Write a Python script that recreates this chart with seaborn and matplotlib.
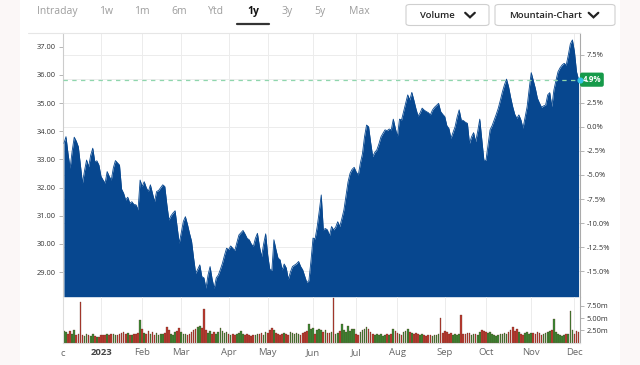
import numpy as np
import pandas as pd
import matplotlib.pyplot as plt
import seaborn as sns
from matplotlib.lines import Line2D
from matplotlib.patches import FancyBboxPatch, Rectangle
import matplotlib.transforms as mtransforms

# trading days shown (1y view)
start_day = '2022-12-06'
end_day = '2023-12-05'
market_holidays = ['2022-12-26', '2023-01-02', '2023-01-16', '2023-02-20', '2023-04-07',
                   '2023-05-29', '2023-06-19', '2023-07-04', '2023-09-04', '2023-11-23']

# daily close
close = [
    33.57, 33.81, 33.20, 32.69, 33.30, 33.79, 33.65, 33.45, 32.80, 32.16,
    32.60, 32.98, 32.74, 33.15, 33.40, 32.92, 32.95, 32.80, 32.40, 32.27,
    32.16, 32.57, 32.40, 32.27, 32.70, 32.96, 32.88, 32.80, 31.95, 31.80,
    31.56, 31.66, 31.45, 31.50, 31.40, 31.39, 31.21, 32.27, 32.04, 32.21,
    32.00, 31.86, 32.10, 31.80, 31.50, 31.86, 31.90, 32.00, 32.10, 32.04,
    31.40, 30.85, 31.00, 31.10, 31.18, 30.60, 30.03, 30.40, 30.80, 30.97,
    30.70, 30.38, 30.10, 29.50, 28.96, 29.10, 29.26, 28.84, 28.80, 28.43,
    28.90, 29.20, 28.75, 28.43, 28.80, 28.90, 29.10, 29.32, 29.60, 29.85,
    29.80, 29.93, 29.85, 29.77, 30.05, 30.32, 30.40, 30.48, 30.35, 30.20,
    30.15, 30.00, 29.91, 30.20, 30.38, 29.90, 29.55, 30.00, 30.36, 29.60,
    29.10, 29.06, 30.15, 29.80, 29.50, 29.44, 29.08, 29.29, 29.15, 28.75,
    29.00, 29.20, 29.25, 29.30, 29.38, 29.20, 29.08, 28.85, 28.63, 28.70,
    29.40, 30.21, 30.18, 30.60, 31.15, 31.74, 30.50, 30.55, 30.50, 30.29,
    30.62, 30.50, 30.60, 30.79, 30.62, 30.90, 31.21, 31.70, 32.20, 32.51,
    32.65, 32.72, 32.55, 32.45, 32.87, 33.20, 33.80, 34.22, 34.16, 33.60,
    33.10, 33.25, 33.34, 33.55, 33.80, 33.93, 34.05, 34.02, 34.08, 34.05,
    34.43, 34.10, 33.81, 34.43, 34.40, 34.70, 35.00, 35.29, 35.11, 35.38,
    35.10, 34.80, 34.54, 34.65, 34.82, 34.75, 34.70, 34.66, 34.58, 34.75,
    34.85, 34.92, 34.99, 34.70, 34.60, 34.52, 34.20, 34.10, 33.75, 33.95,
    34.16, 34.50, 34.76, 34.40, 34.38, 34.32, 34.28, 33.57, 33.80, 33.95,
    33.63, 34.00, 34.43, 33.70, 32.98, 32.96, 33.50, 34.05, 34.20, 34.40,
    34.60, 34.82, 35.10, 35.40, 35.65, 35.85, 35.58, 35.20, 34.87, 34.60,
    34.46, 34.58, 34.40, 34.11, 34.50, 34.87, 35.50, 36.08, 35.80, 35.52,
    35.17, 35.00, 34.85, 34.90, 34.93, 35.29, 35.37, 34.87, 35.46, 35.80,
    36.11, 36.25, 36.35, 36.41, 36.35, 36.70, 37.10, 37.24, 36.82, 36.11,
    35.83,
]

# daily volume in millions
volume_m = [
    2.4, 2.1, 1.7, 2.3, 1.8, 2.5, 1.6, 1.8, 8.3, 1.5,
    1.4, 1.7, 1.6, 1.3, 1.7, 1.4, 1.2, 1.1, 1.5, 1.6,
    1.5, 1.7, 1.6, 1.8, 1.7, 1.6, 1.5, 1.8, 2.0, 2.2,
    1.7, 1.9, 1.6, 1.5, 1.7, 1.8, 2.0, 4.6, 2.8, 2.0,
    1.7, 2.4, 1.8, 2.1, 1.6, 1.9, 1.5, 1.7, 1.8, 2.0,
    3.1, 2.6, 1.8, 1.6, 2.1, 2.3, 3.0, 2.2, 1.7, 1.8,
    1.6, 1.8, 2.1, 2.5, 2.8, 3.1, 3.3, 2.9, 6.85, 2.6,
    1.9, 2.3, 1.8, 2.1, 1.7, 2.2, 3.0, 2.3, 1.9, 2.2,
    1.8, 1.6, 1.7, 1.5, 1.8, 2.0, 2.4, 1.7, 1.6, 1.8,
    1.5, 1.4, 1.6, 1.5, 1.8, 1.7, 2.0, 1.6, 2.1, 1.9,
    2.5, 3.0, 2.6, 2.0, 1.8, 1.5, 1.7, 2.0, 1.8, 1.6,
    2.1, 1.9, 1.7, 2.0, 1.8, 1.6, 1.9, 2.1, 2.4, 3.9,
    2.8, 3.0, 1.7, 2.6, 2.8, 2.6, 2.2, 2.5, 2.0, 1.9,
    2.2, 9.2, 1.8, 2.0, 2.4, 3.9, 2.6, 2.2, 3.4, 2.4,
    2.8, 2.7, 1.8, 1.5, 2.1, 2.6, 2.8, 3.2, 2.8, 2.1,
    1.7, 1.6, 1.8, 1.5, 1.7, 1.4, 1.6, 1.8, 1.5, 1.7,
    2.7, 2.3, 2.0, 1.8, 1.6, 2.1, 2.4, 2.7, 2.2, 1.9,
    1.7, 2.0, 1.8, 1.5, 1.7, 1.6, 1.4, 1.6, 1.5, 1.4,
    1.5, 1.6, 1.8, 5.0, 2.0, 2.4, 2.1, 1.7, 1.9, 1.6,
    1.8, 1.5, 1.7, 5.7, 1.8, 1.7, 1.9, 2.0, 1.6, 1.8,
    1.7, 1.5, 2.1, 2.5, 2.4, 2.2, 2.0, 2.1, 1.8, 1.6,
    1.4, 1.5, 1.7, 1.8, 2.0, 1.8, 2.2, 2.6, 3.1, 2.4,
    2.7, 2.1, 1.8, 1.6, 1.9, 2.1, 1.8, 2.0, 1.9, 1.7,
    2.1, 1.9, 1.6, 1.8, 2.0, 2.2, 2.4, 2.5, 4.8, 2.1,
    1.8, 1.5, 1.3, 1.6, 1.8, 1.7, 6.5, 2.6, 1.8, 2.4,
    2.1,
]

periods = ['Intraday', '1w', '1m', '6m', 'Ytd', '1y', '3y', '5y', 'Max']
active_period = '1y'
price_ticks = [29, 30, 31, 32, 33, 34, 35, 36, 37]
pct_ticks = [-15.0, -12.5, -10.0, -7.5, -5.0, -2.5, 0.0, 2.5, 5.0, 7.5]
vol_ticks = [2.5, 5.0, 7.5]
last_change_pct = 4.9

# --- build the frame
days = pd.bdate_range(start_day, end_day)
days = days[~days.isin(pd.to_datetime(market_holidays))]
assert len(days) == len(close) == len(volume_m)
df = pd.DataFrame({'date': days, 'close': close, 'volume': volume_m})
df['i'] = np.arange(len(df))
df['dir'] = np.where(df['close'].diff().fillna(0) >= 0, 'up', 'down')
base = close[-1] / (1 + last_change_pct / 100)

month_first = df.groupby(df['date'].dt.to_period('M'))['i'].min()
month_first = month_first[month_first.index >= pd.Period('2023-01', 'M')]
month_pos = month_first.values
month_lab = ['2023' if p.month == 1 else p.strftime('%b') for p in month_first.index]

sns.set_theme(style='white')
plt.rcParams['font.family'] = ['Open Sans', 'DejaVu Sans']

W, H = 640, 365
fig = plt.figure(figsize=(6.4, 3.65), dpi=100)
fig.patch.set_facecolor('#fbf7f7')
fig.add_artist(Rectangle((20 / W, 0), 600 / W, 1, transform=fig.transFigure,
                         facecolor='white', edgecolor='none', zorder=0))


def fx(x):
    return x / W


def fy(y):
    return 1 - y / H


# panels
x0, x1 = 63, 579.5
ytop, ymid, ybot = 33.3, 296.7, 342.7
ax = fig.add_axes([fx(x0), fy(ymid), fx(x1 - x0), (ymid - ytop) / H])
axv = fig.add_axes([fx(x0), fy(ybot), fx(x1 - x0), (ybot - ymid) / H])
for a in (ax, axv):
    a.set_facecolor('none')

lo, hi = 28.13, 37.475
xlim = (-0.45, len(df) - 0.55)
blue = '#07478f'
grid_c = '#ececec'

# price mountain
for p in pct_ticks:
    ax.axhline(base * (1 + p / 100), color=grid_c, lw=0.7, zorder=0)
for m in month_pos:
    ax.axvline(m, color=grid_c, lw=0.7, zorder=0)
    axv.axvline(m, color=grid_c, lw=0.7, zorder=0)
ax.fill_between(df['i'], df['close'], lo, color=blue, lw=0, zorder=2)
sns.lineplot(data=df, x='i', y='close', ax=ax, color=blue, lw=0.6, zorder=3)
ax.axhline(close[-1], color='#8fd6ad', lw=0.9, ls=(0, (3.5, 3.5)), zorder=4)
ax.set_xlim(*xlim)
ax.set_ylim(lo, hi)
ax.set_xticks([])
ax.set_xlabel('')
ax.set_ylabel('')
ax.set_yticks(price_ticks)
ax.set_yticklabels([f'{v:.2f}' for v in price_ticks])
ax.tick_params(axis='y', left=True, length=3, width=0.6, color='#aaaaaa',
               labelsize=5.4, labelcolor='#333333', pad=2)
for s in ['top', 'bottom', 'right']:
    ax.spines[s].set_visible(False)
ax.spines['left'].set_color('#cccccc')
ax.spines['left'].set_linewidth(0.8)

ax2 = ax.twinx()
ax2.set_ylim((lo / base - 1) * 100, (hi / base - 1) * 100)
ax2.set_yticks(pct_ticks)
# the 5.0% label sits under the last-value badge, so it is left blank
ax2.set_yticklabels(['' if abs(v - last_change_pct) < 1 else f'{v:.1f}%' for v in pct_ticks])
ax2.tick_params(axis='y', right=True, length=3, width=0.6, color='#aaaaaa',
                labelsize=5.4, labelcolor='#333333', pad=2)
ax2.grid(False)
for s in ['top', 'bottom', 'left']:
    ax2.spines[s].set_visible(False)
ax2.spines['right'].set_color('#aaaaaa')
ax2.spines['right'].set_linewidth(0.8)

# last value badge and marker
trans = mtransforms.blended_transform_factory(ax.transAxes, ax.transData)
ax2.text(1.006, close[-1], f'{last_change_pct:.1f}%', transform=trans, ha='left', va='center',
         fontsize=5.8, fontweight='bold', color='white', zorder=5,
         bbox=dict(boxstyle='round,pad=0.32,rounding_size=0.25', fc='#169a4a', ec='none'))
ax2.plot([1.0], [close[-1]], marker='o', ms=3.4, color='#35c6e6', transform=trans,
         clip_on=False, zorder=6)

# volume bars
sns.barplot(data=df, x='i', y='volume', hue='dir', palette={'up': '#2c9a27', 'down': '#d5261b'},
            native_scale=True, dodge=False, width=0.8, errorbar=None, legend=False,
            edgecolor='#5a2a1a', linewidth=0.2, ax=axv)
axv.set_xlim(*xlim)
axv.set_ylim(0, 9.37)
axv.set_xlabel('')
axv.set_ylabel('')
axv.yaxis.tick_right()
axv.set_yticks(vol_ticks)
axv.set_yticklabels([f'{v:.2f}m' for v in vol_ticks])
axv.tick_params(axis='y', right=True, left=False, length=3, width=0.6, color='#aaaaaa',
                labelsize=5.4, labelcolor='#333333', pad=2)
axv.set_xticks(month_pos)
axv.set_xticklabels(month_lab)
axv.tick_params(axis='x', bottom=False, length=0, labelsize=6.8, labelcolor='#666666', pad=4)
for t in axv.get_xticklabels():
    if t.get_text() == '2023':
        t.set_fontweight('bold')
        t.set_color('#444444')
axv.spines['top'].set_visible(False)
for s in ['left', 'right', 'bottom']:
    axv.spines[s].set_color('#dddddd')
    axv.spines[s].set_linewidth(0.8)
axv.spines['right'].set_color('#aaaaaa')
fig.text(fx(62.5), fy(353), 'c', ha='center', va='center', fontsize=6.8, color='#666666')

# top border of chart
fig.add_artist(Line2D([fx(28), fx(580)], [fy(33.3), fy(33.3)], color='#e6e6e6', lw=0.8))

# period selector
period_x = [57.8, 106, 142, 179, 216, 253, 286.7, 319.7, 359]
for name, px in zip(periods, period_x):
    active = name == active_period
    fig.text(fx(px), fy(11.5), name, ha='center', va='center', fontsize=7.5,
             color='#111111' if active else '#9d9d9d', fontweight='bold' if active else 'normal')
fig.add_artist(Line2D([fx(237), fx(269)], [fy(24.3), fy(24.3)], color='#333333', lw=1.6))

# dropdown buttons
buttons = [('Volume', 406, 489, 437, 470), ('Mountain-Chart', 495, 615, 546, 593.5)]
for label, bx0, bx1, tx, cx in buttons:
    fig.add_artist(FancyBboxPatch((fx(bx0), fy(25.5)), fx(bx1 - bx0), (25.5 - 4.5) / H,
                                  boxstyle='round,pad=0,rounding_size=0.006',
                                  transform=fig.transFigure, facecolor='white',
                                  edgecolor='#cfcfcf', lw=0.8))
    fig.text(fx(tx), fy(15), label, ha='center', va='center', fontsize=6.8,
             color='#222222', fontweight='semibold')
    fig.add_artist(Line2D([fx(cx - 4.8), fx(cx), fx(cx + 4.8)], [fy(12.8), fy(17.3), fy(12.8)],
                          color='#222222', lw=1.6, solid_capstyle='round', solid_joinstyle='miter'))

fig.savefig('out.png', dpi=100, facecolor=fig.get_facecolor())
